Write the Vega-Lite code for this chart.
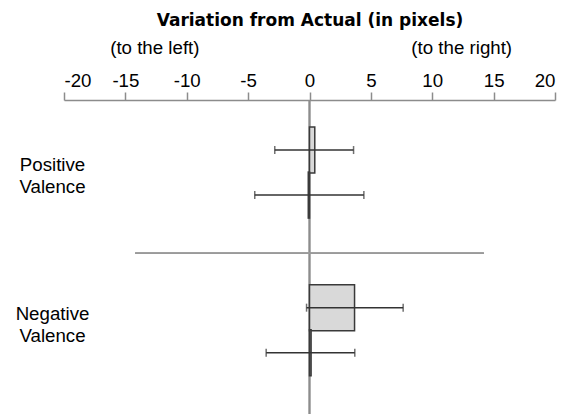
{
  "$schema": "https://vega.github.io/schema/vega-lite/v6.json",
  "width": 491,
  "height": 314,
  "autosize": "none",
  "padding": {"left": 64, "top": 100, "right": 23, "bottom": 1},
  "background": "white",
  "config": {"view": {"stroke": null}, "font": "Liberation Sans"},
  "data": {
    "values": [
      {"group": "Positive Valence", "cond": "A", "row": 1, "value": 0.43, "lo": -2.83, "hi": 3.59},
      {"group": "Positive Valence", "cond": "B", "row": 2, "value": -0.1, "lo": -4.46, "hi": 4.43},
      {"group": "Negative Valence", "cond": "A", "row": 4.5, "value": 3.67, "lo": -0.24, "hi": 7.63},
      {"group": "Negative Valence", "cond": "B", "row": 5.5, "value": 0.13, "lo": -3.53, "hi": 3.69}
    ]
  },
  "layer": [
    {
      "mark": {"type": "rule", "color": "#8c8c8c", "strokeWidth": 1.5},
      "encoding": {
        "x": {"datum": 0, "type": "quantitative", "scale": {"domain": [-20, 20], "nice": false}}
      }
    },
    {
      "mark": {"type": "rule", "color": "#9a9a9a", "strokeWidth": 1.5},
      "encoding": {
        "x": {"datum": -14.2, "type": "quantitative"},
        "x2": {"datum": 14.2},
        "y": {"datum": 3.29, "type": "quantitative"}
      }
    },
    {
      "mark": {"type": "bar", "fill": "#d9d9d9", "stroke": "#3a3a3a", "strokeWidth": 1.5, "height": 46},
      "encoding": {
        "y": {
          "field": "row",
          "type": "quantitative",
          "scale": {"domain": [0, 6.75], "reverse": true, "nice": false, "zero": false},
          "axis": {
            "title": null,
            "orient": "left",
            "values": [1.33, 4.64],
            "domain": false,
            "ticks": false,
            "grid": false,
            "labelAlign": "center",
            "labelBaseline": "middle",
            "labelPadding": 12,
            "labelFont": "Liberation Sans",
            "labelFontSize": 18.7,
            "labelLineHeight": 21.5,
            "labelColor": "#000000",
            "labelOverlap": false,
            "labelBound": false,
            "labelExpr": "datum.value < 3 ? ['Positive', 'Valence'] : ['Negative', 'Valence']"
          }
        },
        "x": {
          "field": "value",
          "type": "quantitative",
          "scale": {"domain": [-20, 20], "nice": false},
          "axis": {
            "orient": "top",
            "values": [-20, -15, -10, -5, 0, 5, 10, 15, 20],
            "labelExpr": "'' + datum.value",
            "grid": false,
            "domainColor": "#8c8c8c",
            "domainWidth": 1.5,
            "tickColor": "#8c8c8c",
            "tickWidth": 1.5,
            "tickSize": 8,
            "labelFont": "Liberation Sans",
            "labelFontSize": 18.7,
            "labelColor": "#000000",
            "labelPadding": 2,
            "title": "Variation from Actual (in pixels)",
            "titleFont": "DejaVu Sans",
            "titleFontSize": 17,
            "titleFontWeight": "bold",
            "titleColor": "#000000",
            "titlePadding": 42
          }
        },
        "x2": {"datum": 0}
      }
    },
    {
      "mark": {"type": "rule", "color": "#333333", "strokeWidth": 1.5},
      "encoding": {
        "y": {"field": "row", "type": "quantitative"},
        "x": {"field": "lo", "type": "quantitative"},
        "x2": {"field": "hi"}
      }
    },
    {
      "mark": {"type": "tick", "orient": "vertical", "color": "#333333", "size": 8, "thickness": 1.5},
      "encoding": {
        "y": {"field": "row", "type": "quantitative"},
        "x": {"field": "lo", "type": "quantitative"}
      }
    },
    {
      "mark": {"type": "tick", "orient": "vertical", "color": "#333333", "size": 8, "thickness": 1.5},
      "encoding": {
        "y": {"field": "row", "type": "quantitative"},
        "x": {"field": "hi", "type": "quantitative"}
      }
    },
    {
      "data": {"values": [{"side": "(to the left)", "pos": -12.6}, {"side": "(to the right)", "pos": 12.4}]},
      "mark": {"type": "text", "clip": false, "font": "Liberation Sans", "fontSize": 18.7, "fill": "#000000", "align": "center", "baseline": "middle"},
      "encoding": {
        "x": {"field": "pos", "type": "quantitative"},
        "y": {"datum": -1.27, "type": "quantitative"},
        "text": {"field": "side", "type": "nominal"}
      }
    }
  ]
}
